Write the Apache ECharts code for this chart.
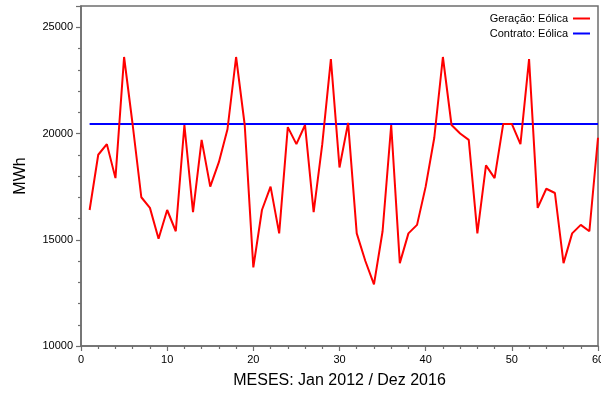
<!DOCTYPE html>
<html>
<head>
<meta charset="utf-8">
<script src="https://cdn.jsdelivr.net/npm/echarts@6/dist/echarts.min.js"></script>
<style>html,body{margin:0;padding:0;background:#fff}#c{width:601px;height:397px}</style>
</head>
<body>
<div id="c"></div>
<script>
const months = [1,2,3,4,5,6,7,8,9,10,11,12,13,14,15,16,17,18,19,20,21,22,23,24,25,26,27,28,29,30,31,32,33,34,35,36,37,38,39,40,41,42,43,44,45,46,47,48,49,50,51,52,53,54,55,56,57,58,59,60];
const geracao = [16400,19000,19500,17900,23600,20400,17000,16500,15050,16400,15400,20400,16300,19700,17500,18650,20200,23600,20400,13700,
                 16400,17500,15300,20300,19500,20400,16300,19500,23500,18400,20500,15300,14000,12900,15400,20400,13900,15300,15700,17500,
                 19800,23600,20400,20000,19700,15300,18500,17900,20450,20450,19500,23500,16500,17400,17200,13900,15300,15700,15400,19800];
const contrato = [20450,20450,20450,20450,20450,20450,20450,20450,20450,20450,20450,20450,20450,20450,20450,20450,20450,20450,20450,20450,
                  20450,20450,20450,20450,20450,20450,20450,20450,20450,20450,20450,20450,20450,20450,20450,20450,20450,20450,20450,20450,
                  20450,20450,20450,20450,20450,20450,20450,20450,20450,20450,20450,20450,20450,20450,20450,20450,20450,20450,20450,20450];
const seriesNames = ['Geração: Eólica', 'Contrato: Eólica'];
const xTitle = 'MESES: Jan 2012 / Dez 2016';
const yTitle = 'MWh';

const font = '"Liberation Sans", Arial, sans-serif';
const axisColor = '#6e6e6e';
const chart = echarts.init(document.getElementById('c'), null, {renderer: 'canvas'});
const legendBase = {
  right: 11, orient: 'vertical', align: 'right', itemWidth: 17, itemHeight: 10, itemGap: 5,
  textStyle: {fontFamily: font, fontSize: 11, color: '#000', padding: [0, 0, 0, 0]},
  icon: 'path://M0,4 L17,4 L17,6 L0,6 Z', padding: 0, selectedMode: false
};
chart.setOption({
  animation: false,
  backgroundColor: '#fff',
  legend: [
    Object.assign({}, legendBase, {top: 13, data: [seriesNames[0]]}),
    Object.assign({}, legendBase, {top: 28, data: [seriesNames[1]]})
  ],
  grid: {left: 81, right: 3, top: 6, bottom: 51, containLabel: false, outerBoundsMode: 'none',
         show: true, borderColor: axisColor, borderWidth: 1.5, backgroundColor: '#fff'},
  xAxis: {
    type: 'value', min: 0, max: 60, interval: 10,
    name: xTitle, nameLocation: 'middle', nameGap: 27,
    nameTextStyle: {fontFamily: font, fontSize: 16, color: '#000'},
    axisLine: {show: true, lineStyle: {color: axisColor, width: 1.5}},
    axisTick: {show: true, length: 5, lineStyle: {color: axisColor, width: 1.2}},
    minorTick: {show: true, splitNumber: 5, length: 3, lineStyle: {color: axisColor, width: 1.2}},
    axisLabel: {fontFamily: font, fontSize: 11, color: '#000', margin: 8},
    splitLine: {show: false}
  },
  yAxis: {
    type: 'value', min: 10000, max: 26000, interval: 5000,
    name: yTitle, nameLocation: 'middle', nameGap: 52, nameRotate: 90,
    nameTextStyle: {fontFamily: font, fontSize: 16, color: '#000'},
    axisLine: {show: true, lineStyle: {color: axisColor, width: 1.5}},
    axisTick: {show: true, length: 5, lineStyle: {color: axisColor, width: 1.2}},
    minorTick: {show: true, splitNumber: 5, length: 3, lineStyle: {color: axisColor, width: 1.2}},
    axisLabel: {fontFamily: font, fontSize: 11, color: '#000', margin: 8,
      showMaxLabel: false, formatter: v => String(v)},
    splitLine: {show: false}
  },
  series: [
    {
      name: seriesNames[0], type: 'line', symbol: 'none',
      data: months.map((m, i) => [m, geracao[i]]),
      lineStyle: {color: '#ff0000', width: 2}, itemStyle: {color: '#ff0000'}, z: 3
    },
    {
      name: seriesNames[1], type: 'line', symbol: 'none',
      data: months.map((m, i) => [m, contrato[i]]),
      lineStyle: {color: '#0000ff', width: 2}, itemStyle: {color: '#0000ff'}, z: 2
    }
  ]
});
</script>
</body>
</html>
